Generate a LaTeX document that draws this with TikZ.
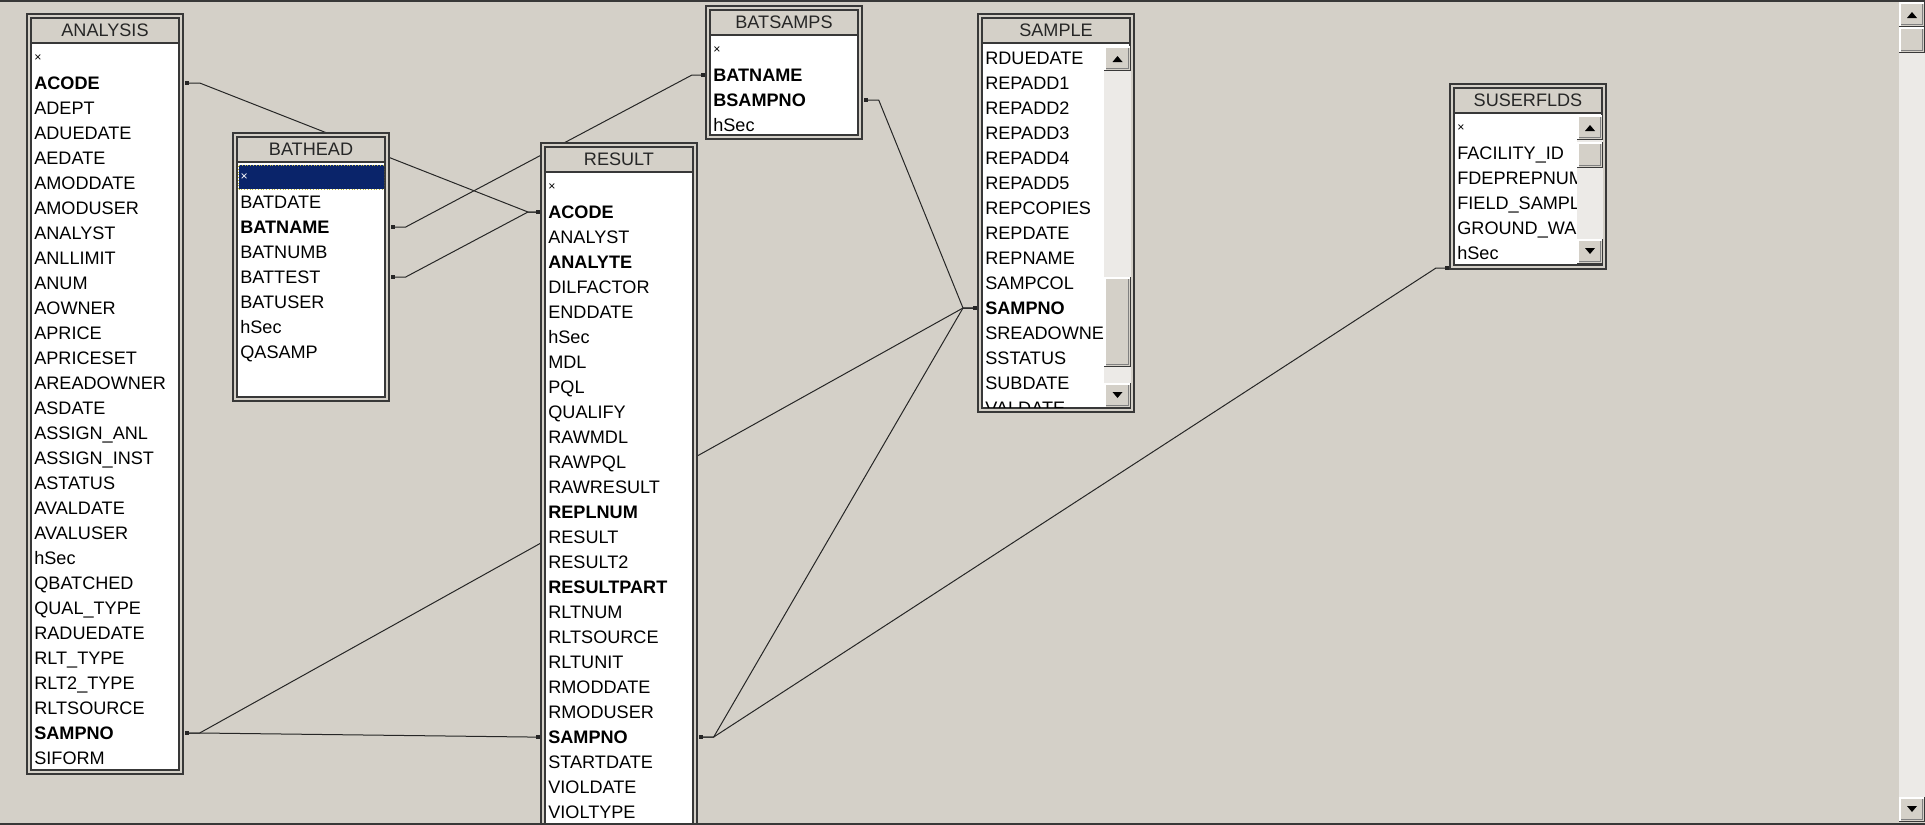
\documentclass[tikz,border=0pt]{standalone}
\usepackage{fontspec}
\setmainfont{Liberation Sans}
\usetikzlibrary{calc,positioning,arrows.meta}

\definecolor{winface}{RGB}{212,208,200}
\definecolor{framegray}{RGB}{56,56,56}
\definecolor{btnshadow}{RGB}{128,128,128}
\definecolor{trackgray}{RGB}{236,234,231}
\definecolor{selnavy}{RGB}{10,36,106}

\newlength{\px}
\setlength{\px}{0.02cm}
\newcommand{\fieldfont}{\fontsize{10.3}{12}\selectfont}

\pgfdeclarelayer{canvas}
\pgfdeclarelayer{lines}
\pgfsetlayers{canvas,lines,main}

\tikzset{
  tabframe/.style={draw=framegray, line width=2\px},
  tabinner/.style={draw=framegray, line width=1.5\px},
  tabtitle/.style={font=\fieldfont, text=black!85, inner sep=0pt},
  fieldrow/.style={anchor=west, inner xsep=8\px, inner ysep=0pt, text width=142\px,
    text height=7.4pt, text depth=0pt, font=\fieldfont},
  nk/.style={},
  pk/.style={font=\fieldfont\bfseries},
  starrow/.style={xshift=4\px, inner xsep=4\px, font=\fontsize{7}{7}\selectfont, text height=4.5pt},
  selstar/.style={starrow, xshift=2\px, inner xsep=2\px, fill=selnavy, text=white,
    draw=yellow!70!black, densely dotted, line width=1\px, minimum height=24\px},
  relline/.style={draw=black!85, line width=1\px,
    {Square[length=0.9mm,width=0.9mm]}-{Square[length=0.9mm,width=0.9mm]}},
}

% #1 name, #2 left, #3 top, #4 bottom, #5 fields
\newcommand{\dbtable}[5]{%
  \fill[winface] (#2,#3) rectangle (#2+158,#4);
  \fill[white] (#2+6,#3+31) rectangle (#2+152,#4-6);
  \draw[tabframe] (#2+1,#3+1) rectangle (#2+157,#4-1);
  \draw[tabinner] (#2+5,#3+5) rectangle (#2+153,#4-5);
  \draw[tabinner] (#2+5,#3+30) -- (#2+153,#3+30);
  \node[tabtitle] (#1) at (#2+79,#3+17) {#1};
  \begin{scope}
    \clip (#2+6,#3+31) rectangle (#2+152,#4-6);
    \foreach \f/\s [count=\i from 0] in {#5}
      \node[fieldrow,\s] (#1-\f) at (#2,#3+45+25*\i) {\f};
  \end{scope}
}

\newcommand{\winbutton}[4]{%
  \fill[winface] (#1,#2) rectangle (#3,#4);
  \draw[white, line width=1.5\px] (#1+1,#4-1) -- (#1+1,#2+1) -- (#3-1,#2+1);
  \draw[btnshadow, line width=1.5\px] (#1+2,#4-2.5) -- (#3-2.5,#4-2.5) -- (#3-2.5,#2+2);
  \draw[framegray, line width=1\px] (#1,#4-0.5) -- (#3-0.5,#4-0.5) -- (#3-0.5,#2);
}

% #1 left, #2 right, #3 top, #4 bottom, #5 thumb top, #6 thumb bottom
\newcommand{\vscrollbar}[6]{%
  \fill[trackgray] (#1,#3) rectangle (#2,#4);
  \winbutton{#1}{#3}{#2}{#3+25}
  \winbutton{#1}{#4-25}{#2}{#4}
  \winbutton{#1}{#5}{#2}{#6}
  \fill[black] ({(#1+#2)/2-5},#3+16) -- ({(#1+#2)/2+5},#3+16) -- ({(#1+#2)/2},#3+10) -- cycle;
  \fill[black] ({(#1+#2)/2-5},#4-16) -- ({(#1+#2)/2+5},#4-16) -- ({(#1+#2)/2},#4-10) -- cycle;
}

\begin{document}
\catcode`\_=12
\begin{tikzpicture}[x=0.02cm, y=-0.02cm]
    \useasboundingbox (0,0) rectangle (1925,825);
    \begin{pgfonlayer}{canvas}
        \fill[winface] (0,0) rectangle (1925,825);
    \end{pgfonlayer}

    \dbtable{ANALYSIS}{26}{13}{775}{×/starrow, ACODE/pk, ADEPT/nk, ADUEDATE/nk, AEDATE/nk,
        AMODDATE/nk, AMODUSER/nk, ANALYST/nk, ANLLIMIT/nk, ANUM/nk, AOWNER/nk, APRICE/nk,
        APRICESET/nk, AREADOWNER/nk, ASDATE/nk, ASSIGN_ANL/nk, ASSIGN_INST/nk, ASTATUS/nk,
        AVALDATE/nk, AVALUSER/nk, hSec/nk, QBATCHED/nk, QUAL_TYPE/nk, RADUEDATE/nk,
        RLT_TYPE/nk, RLT2_TYPE/nk, RLTSOURCE/nk, SAMPNO/pk, SIFORM/nk}
    \dbtable{BATHEAD}{232}{132}{402}{×/selstar, BATDATE/nk, BATNAME/pk, BATNUMB/nk,
        BATTEST/nk, BATUSER/nk, hSec/nk, QASAMP/nk}
    \dbtable{BATSAMPS}{705}{5}{140}{×/starrow, BATNAME/pk, BSAMPNO/pk, hSec/nk}
    \dbtable{RESULT}{540}{142}{850}{×/starrow, ACODE/pk, ANALYST/nk, ANALYTE/pk,
        DILFACTOR/nk, ENDDATE/nk, hSec/nk, MDL/nk, PQL/nk, QUALIFY/nk, RAWMDL/nk, RAWPQL/nk,
        RAWRESULT/nk, REPLNUM/pk, RESULT/nk, RESULT2/nk, RESULTPART/pk, RLTNUM/nk,
        RLTSOURCE/nk, RLTUNIT/nk, RMODDATE/nk, RMODUSER/nk, SAMPNO/pk, STARTDATE/nk,
        VIOLDATE/nk, VIOLTYPE/nk}
    \dbtable{SAMPLE}{977}{13}{413}{RDUEDATE/nk, REPADD1/nk, REPADD2/nk, REPADD3/nk,
        REPADD4/nk, REPADD5/nk, REPCOPIES/nk, REPDATE/nk, REPNAME/nk, SAMPCOL/nk,
        SAMPNO/pk, SREADOWNE/nk, SSTATUS/nk, SUBDATE/nk, VALDATE/nk}
    \vscrollbar{1104}{1131}{46}{408}{277}{367}
    \dbtable{SUSERFLDS}{1449}{83}{270}{×/starrow, FACILITY_ID/nk, FDEPREPNUM/nk,
        FIELD_SAMPL/nk, GROUND_WA/nk, hSec/nk}
    \vscrollbar{1577}{1603}{115}{264}{142}{168}

    \begin{pgfonlayer}{lines}
        \path[relline] (ANALYSIS-ACODE.east) -- ++(15,0)
            -- ($(RESULT-ACODE.west)+(-12,0)$) -- (RESULT-ACODE.west);
        \path[relline] (BATHEAD-BATTEST.east) -- ++(15,0)
            -- ($(RESULT-ACODE.west)+(-12,0)$) -- (RESULT-ACODE.west);
        \path[relline] (BATHEAD-BATNAME.east) -- ++(15,0)
            -- ($(BATSAMPS-BATNAME.west)+(-13,0)$) -- (BATSAMPS-BATNAME.west);
        \path[relline] (BATSAMPS-BSAMPNO.east) -- ++(15,0)
            -- ($(SAMPLE-SAMPNO.west)+(-14,0)$) -- (SAMPLE-SAMPNO.west);
        \path[relline] (ANALYSIS-SAMPNO.east) -- ++(15,0)
            -- ($(SAMPLE-SAMPNO.west)+(-14,0)$) -- (SAMPLE-SAMPNO.west);
        \path[relline] (ANALYSIS-SAMPNO.east) -- ++(15,0)
            -- ($(RESULT-SAMPNO.west)+(-12,0)$) -- (RESULT-SAMPNO.west);
        \path[relline] (RESULT-SAMPNO.east) -- ++(15,0)
            -- ($(SAMPLE-SAMPNO.west)+(-14,0)$) -- (SAMPLE-SAMPNO.west);
        \path[relline] (RESULT-SAMPNO.east) -- ++(15,0)
            -- ($(SUSERFLDS-hSec.west)+(-13,15)$) -- ($(SUSERFLDS-hSec.west)+(0,15)$);
    \end{pgfonlayer}

    \vscrollbar{1899}{1925}{2}{822}{27}{53}
    \draw[framegray, line width=2\px] (0,1) -- (1925,1);
    \draw[framegray, line width=2\px] (0,824) -- (1925,824);
\end{tikzpicture}
\end{document}
